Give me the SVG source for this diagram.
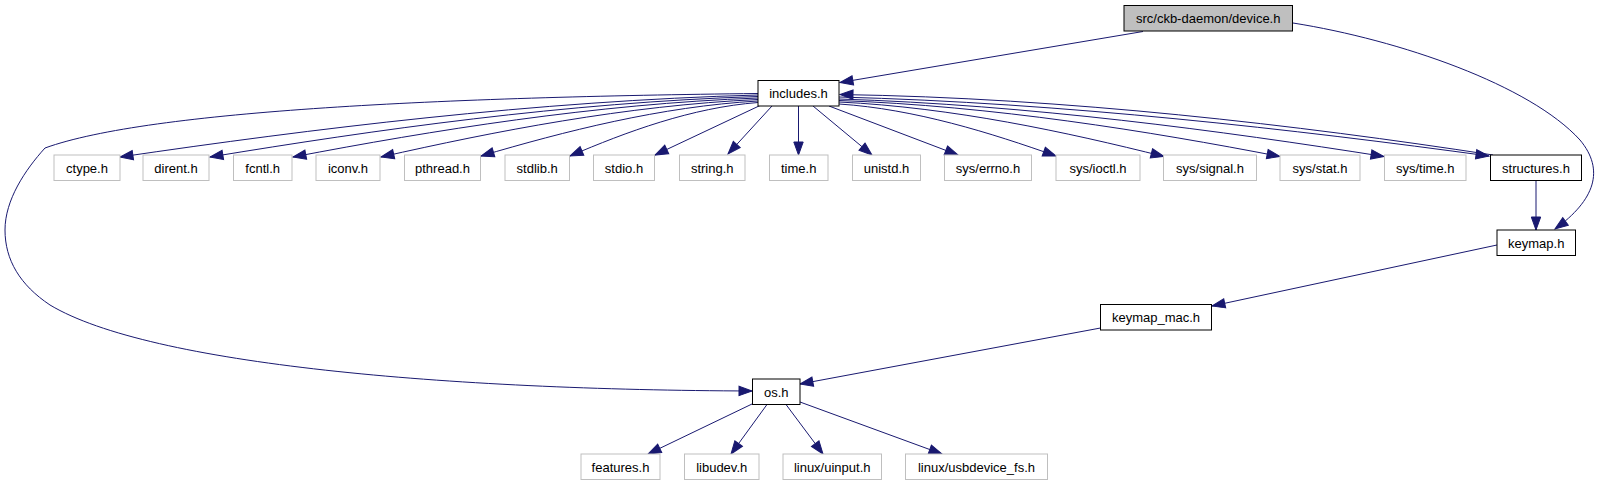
<svg xmlns="http://www.w3.org/2000/svg" width="1604" height="485" viewBox="0 0 1604 485">
<style>
.n rect{fill:#ffffff;stroke:#000000;stroke-width:1}
.g rect{fill:#ffffff;stroke:#bfbfbf;stroke-width:1}
.root rect{fill:#bfbfbf;stroke:#000000;stroke-width:1}
text{font-family:"Liberation Sans",Arial,sans-serif;font-size:13px;fill:#000000;text-anchor:middle}
.e path{fill:none;stroke:#191970;stroke-width:1;marker-end:url(#ah)}
.e path.na{marker-end:none}
</style>
<defs>
<marker id="ah" markerUnits="userSpaceOnUse" markerWidth="16" markerHeight="12" refX="13" refY="4.7" orient="auto" overflow="visible">
<path d="M0,0 L13,4.7 L0,9.4 z" fill="#191970" stroke="#191970" stroke-width="1"/>
</marker>
</defs>
<rect width="1604" height="485" fill="#ffffff"/>
<g id="connectors" class="e">
<path d="M1143,31.5 L840,82.5"/>
<path d="M1293,23 C1400,40 1530,85 1580,140 C1605,170 1595,200 1555,229"/>
<path d="M758,93.5 C450,97 150,110 45,148 C25,170 5,200 5,230 C5,260 20,285 50,305 C150,365 450,390 752,391"/>
<path d="M758,95 C535,101 311,129 120,157"/>
<path d="M758,96.5 C566,102.5 374,130 210,157"/>
<path d="M758,98 C595,104 432,130.5 293,157"/>
<path d="M758,99.5 C626,105.5 494,131.5 381,157"/>
<path d="M758,101 C661,106.5 564,131.5 481,156"/>
<path d="M758,102.5 C692,107.5 626,132 570,156"/>
<path d="M760,105.5 L655,155"/>
<path d="M772,106 L728,154"/>
<path d="M798.5,106 L798.5,155"/>
<path d="M813,106 L872,155"/>
<path d="M829,106 L958,155"/>
<path d="M839,104 C915,109 991,133 1056,156"/>
<path d="M839,102 C953,107.5 1066,132 1164,156.5"/>
<path d="M839,100.5 C993,106 1148,131 1280,156.5"/>
<path d="M839,99 C1030,105 1220,130.6 1384,156.5"/>
<path d="M839,97 C1066,103 1294,129.5 1489,156"/>
<path d="M1493,155 C1297,125 1068,98 840,94.5"/>
<path d="M1536,180.5 L1536,230"/>
<path d="M1497,245 L1212,306"/>
<path d="M1100.5,328 L800,384"/>
<path d="M752,404 L648,454"/>
<path d="M767,404.5 L731,454"/>
<path d="M786,404.5 L823,454"/>
<path d="M800,402 L942,454"/>
</g>
<g id="device_h" class="root"><rect x="1124" y="5.5" width="168.5" height="25.5"/><text x="1208.2" y="23">src/ckb-daemon/device.h</text></g>
<g id="includes_h" class="n"><rect x="758" y="80.5" width="81" height="25.5"/><text x="798.5" y="98">includes.h</text></g>
<g id="ctype_h" class="g"><rect x="54" y="155" width="66" height="25.5"/><text x="87" y="172.5">ctype.h</text></g>
<g id="dirent_h" class="g"><rect x="143" y="155" width="66" height="25.5"/><text x="176" y="172.5">dirent.h</text></g>
<g id="fcntl_h" class="g"><rect x="233.5" y="155" width="58.5" height="25.5"/><text x="262.7" y="172.5">fcntl.h</text></g>
<g id="iconv_h" class="g"><rect x="316" y="155" width="64" height="25.5"/><text x="348" y="172.5">iconv.h</text></g>
<g id="pthread_h" class="g"><rect x="404.5" y="155" width="76" height="25.5"/><text x="442.5" y="172.5">pthread.h</text></g>
<g id="stdlib_h" class="g"><rect x="505" y="155" width="64.5" height="25.5"/><text x="537.2" y="172.5">stdlib.h</text></g>
<g id="stdio_h" class="g"><rect x="593.5" y="155" width="61" height="25.5"/><text x="624" y="172.5">stdio.h</text></g>
<g id="string_h" class="g"><rect x="679.5" y="155" width="65.5" height="25.5"/><text x="712.2" y="172.5">string.h</text></g>
<g id="time_h" class="g"><rect x="769.5" y="155" width="58.5" height="25.5"/><text x="798.7" y="172.5">time.h</text></g>
<g id="unistd_h" class="g"><rect x="852.5" y="155" width="68" height="25.5"/><text x="886.5" y="172.5">unistd.h</text></g>
<g id="sys_errno_h" class="g"><rect x="944.5" y="155" width="87" height="25.5"/><text x="988" y="172.5">sys/errno.h</text></g>
<g id="sys_ioctl_h" class="g"><rect x="1056" y="155" width="84" height="25.5"/><text x="1098" y="172.5">sys/ioctl.h</text></g>
<g id="sys_signal_h" class="g"><rect x="1163.5" y="155" width="93" height="25.5"/><text x="1210" y="172.5">sys/signal.h</text></g>
<g id="sys_stat_h" class="g"><rect x="1280" y="155" width="80" height="25.5"/><text x="1320" y="172.5">sys/stat.h</text></g>
<g id="sys_time_h" class="g"><rect x="1384.5" y="155" width="81.5" height="25.5"/><text x="1425.2" y="172.5">sys/time.h</text></g>
<g id="structures_h" class="n"><rect x="1490.5" y="155" width="91" height="25.5"/><text x="1536" y="172.5">structures.h</text></g>
<g id="keymap_h" class="n"><rect x="1497" y="230" width="78.5" height="25.5"/><text x="1536.2" y="247.5">keymap.h</text></g>
<g id="keymap_mac_h" class="n"><rect x="1100.5" y="304.5" width="111" height="25.5"/><text x="1156" y="322">keymap_mac.h</text></g>
<g id="os_h" class="n"><rect x="752.5" y="379" width="47.5" height="25.5"/><text x="776.2" y="396.5">os.h</text></g>
<g id="features_h" class="g"><rect x="581" y="454" width="79" height="25.5"/><text x="620.5" y="471.5">features.h</text></g>
<g id="libudev_h" class="g"><rect x="684.5" y="454" width="74.5" height="25.5"/><text x="721.7" y="471.5">libudev.h</text></g>
<g id="linux_uinput_h" class="g"><rect x="783" y="454" width="98.5" height="25.5"/><text x="832.2" y="471.5">linux/uinput.h</text></g>
<g id="linux_usbdevice_fs_h" class="g"><rect x="905.5" y="454" width="142" height="25.5"/><text x="976.5" y="471.5">linux/usbdevice_fs.h</text></g>
</svg>
